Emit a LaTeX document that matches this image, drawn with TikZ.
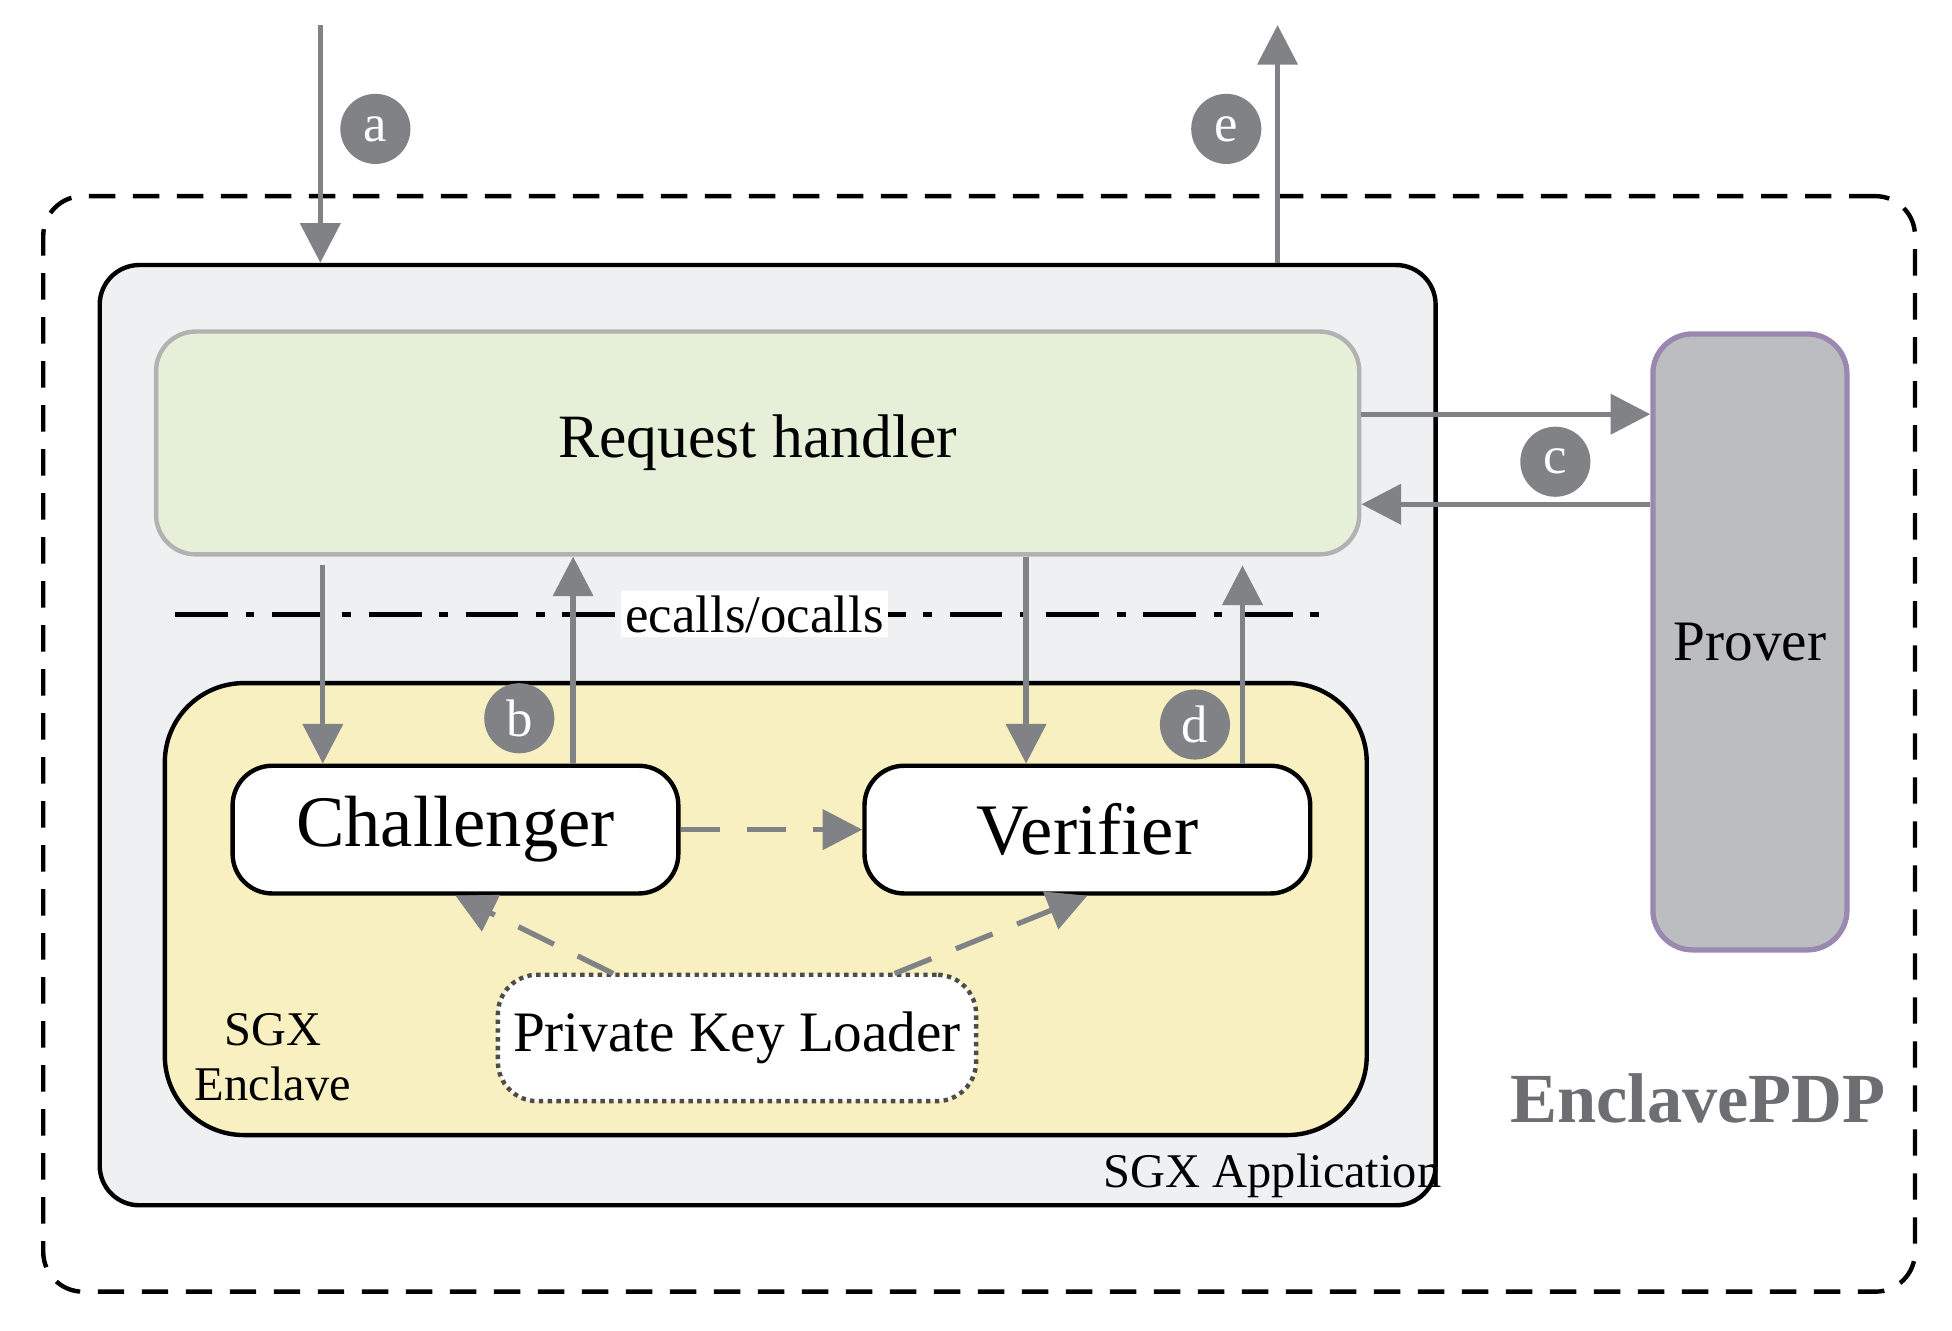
\documentclass[tikz,border=0pt]{standalone}
\usepackage{fontspec}
\setmainfont{Liberation Serif}
\usetikzlibrary{arrows.meta}
\definecolor{arrgray}{HTML}{808285}
\definecolor{appfill}{HTML}{EFF0F2}
\definecolor{rhfill}{HTML}{E6F0D8}
\definecolor{enfill}{HTML}{F8F0C0}
\definecolor{provfill}{HTML}{BCBDC0}
\definecolor{provline}{HTML}{9A88B0}
\definecolor{pdpgray}{HTML}{6D6E71}
\tikzset{
    box/.style={draw, rounded corners=9pt, line width=1pt, inner sep=0pt},
    arr/.style={draw=arrgray, line width=1.2pt, -{Triangle[length=9pt,width=9pt]}},
    darr/.style={arr, dash pattern=on 9pt off 6pt},
    marker/.style={circle, fill=arrgray, text=white, minimum size=0.56cm, inner sep=0pt, font=\fontsize{12}{12}\selectfont}
}
\begin{document}
\begin{tikzpicture}[x=0.01cm, y=-0.01cm]
    \useasboundingbox (0,0) rectangle (1560,1063);

    % Containers
    \node[box, dashed, dash pattern=on 6pt off 4pt, minimum width=14.95cm, minimum height=8.75cm] (outer) at (782.5,594.5) {};
    \node[box, fill=appfill, minimum width=10.67cm, minimum height=7.51cm] (app) at (613.5,587.5) {};
    \node[box, draw=gray!60, fill=rhfill, minimum width=9.61cm, minimum height=1.78cm, font=\fontsize{14}{14}\selectfont] (rh) at (605.5,354) {Request handler};
    \node[box, rounded corners=18pt, fill=enfill, minimum width=9.6cm, minimum height=3.61cm] (encl) at (612,726.5) {};

    % Components
    \node[box, fill=white, minimum width=3.56cm, minimum height=1.02cm, font=\fontsize{16.5}{16.5}\selectfont] (ch) at (364,663) {Challenger};
    \node[box, fill=white, minimum width=3.56cm, minimum height=1.02cm, font=\fontsize{16.5}{16.5}\selectfont] (ve) at (869,663) {Verifier};
    \node[box, fill=white, densely dotted, draw=black!70, minimum width=3.82cm, minimum height=1.01cm, font=\fontsize{13}{13}\selectfont] (pkl) at (589,829.5) {Private Key Loader};
    \node[box, draw=provline, fill=provfill, line width=1.2pt, minimum width=1.55cm, minimum height=4.92cm, font=\fontsize{13}{13}\selectfont] (prover) at (1398.5,513) {Prover};

    % Labels
    \node[align=center, font=\fontsize{11}{12.5}\selectfont] (enlbl) at (218,845) {SGX\\Enclave};
    \node[font=\fontsize{11}{11}\selectfont] (applbl) at (1017,940) {SGX Application};
    \node[font=\bfseries\fontsize{16}{16}\selectfont, text=pdpgray] (pdp) at (1357,878) {EnclavePDP};

    % ecalls/ocalls boundary
    \coordinate (el) at (140,491);
    \coordinate (er) at (1068,491);
    \draw[line width=1pt, dash pattern=on 12pt off 4pt on 2pt off 4pt] (el) -- (er);
    \node[fill=white, inner sep=1pt, font=\fontsize{12}{12}\selectfont] (eo) at (603,491) {ecalls/ocalls};

    % Outside request / response
    \coordinate (ain) at (256,20);
    \coordinate (eout) at (1021,20);
    \draw[arr] (ain) -- (app.north -| ain);
    \draw[arr] (app.north -| eout) -- (eout);

    % Prover exchange
    \coordinate (c1) at (0,331);
    \coordinate (c2) at (0,403);
    \draw[arr] (rh.east |- c1) -- (prover.west |- c1);
    \draw[arr] (prover.west |- c2) -- (rh.east |- c2);

    % Enclave calls
    \coordinate (x1) at (258,0);
    \coordinate (x2) at (458,0);
    \coordinate (x3) at (820,0);
    \coordinate (x4) at (993,0);
    \draw[arr] ([yshift=-2pt]rh.south -| x1) -- (ch.north -| x1);
    \draw[arr] (ch.north -| x2) -- (rh.south -| x2);
    \draw[arr] (rh.south -| x3) -- (ve.north -| x3);
    \draw[arr] (ve.north -| x4) -- ([yshift=-2pt]rh.south -| x4);

    % Internal flows
    \draw[darr] (ch) -- (ve);
    \coordinate (k1) at (490,778);
    \coordinate (k2) at (715,778);
    \draw[darr] (k1) -- (ch.south);
    \draw[darr] (k2) -- (ve.south);

    % Step markers
    \node[marker] (sa) at (300,103) {a};
    \node[marker] (sb) at (415,574) {b};
    \node[marker] (sc) at (1243,369) {c};
    \node[marker] (sd) at (955,579) {d};
    \node[marker] (se) at (980,103) {e};
\end{tikzpicture}
\end{document}
